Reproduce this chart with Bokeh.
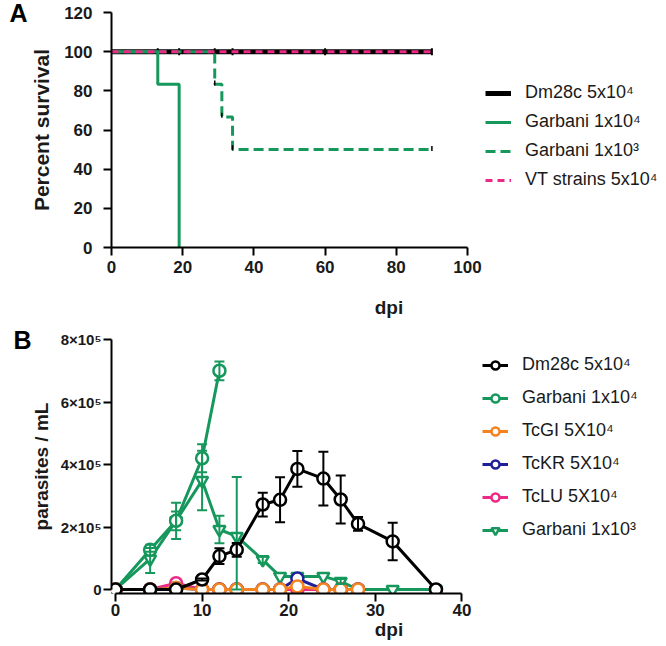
from bokeh.plotting import figure
from bokeh.models import (Legend, LegendItem, FixedTicker, Whisker, LinearAxis,
                          ColumnDataSource, Range1d, TeeHead)
from bokeh.layouts import column
from bokeh.embed import file_html
from bokeh.resources import INLINE

FONT = "Liberation Sans"
GREEN = "#16985c"
PINK = "#ec2a86"
ORANGE = "#f58220"
BLUE = "#1f1f99"
BLACK = "#000000"
TXT = "#1a1a1a"

# ---------------- Panel A data (percent survival) ----------------
surv_dm28c_t = [0, 90]
surv_dm28c = [100, 100]
surv_g4_t = [0, 13, 19]
surv_g4 = [100, 83.3, 0]
surv_g3_t = [0, 29, 31, 34, 90]
surv_g3 = [100, 83.3, 66.7, 50, 50]
surv_vt_t = [0, 90]
surv_vt = [100, 100]
cens_dm28c_t = [13, 19, 29, 34, 60, 90]
cens_dm28c = [100, 100, 100, 100, 100, 100]
cens_g3_t = [29, 31, 34, 90]
cens_g3 = [84, 67.5, 51, 50.5]
a_xticks = [0, 20, 40, 60, 80, 100]
a_yticks = [0, 20, 40, 60, 80, 100, 120]

# ---------------- Panel B data (parasites / mL, x1e5) ----------------
dm_t = [0, 4, 7, 10, 12, 14, 17, 19, 21, 24, 26, 28, 32, 37]
dm_v = [0, 0, 0, 0.32, 1.07, 1.27, 2.72, 2.87, 3.86, 3.55, 2.88, 2.10, 1.54, 0]
dm_e = [0, 0, 0, 0.03, 0.25, 0.22, 0.38, 0.72, 0.57, 0.86, 0.77, 0.22, 0.60, 0]
g4_t = [0, 4, 7, 10, 12]
g4_v = [0, 1.27, 2.20, 4.20, 7.00]
g4_e = [0, 0.06, 0.30, 0.45, 0.30]
g3_t = [0, 4, 7, 10, 12, 14, 17, 19, 21, 24, 26, 28, 32, 37]
g3_v = [0, 0.98, 2.20, 3.49, 1.92, 1.70, 0.95, 0.42, 0.42, 0.42, 0.26, 0, 0, 0]
g3_e = [0, 0.45, 0.58, 0.95, 0.44, 1.90, 0.10, 0, 0, 0, 0.08, 0, 0, 0]
gi_t = [0, 4, 7, 10, 12, 14, 17, 19, 21, 24, 26, 28]
gi_v = [0, 0, 0.05, 0, 0, 0, 0, 0, 0.10, 0, 0, 0]
kr_t = [0, 4, 7, 10, 12, 14, 17, 19, 21, 24, 26, 28]
kr_v = [0, 0, 0.05, 0, 0, 0, 0, 0, 0.35, 0, 0, 0]
lu_t = [0, 4, 7, 10, 12, 14, 17, 19, 21, 24, 26, 28]
lu_v = [0, 0, 0.20, 0, 0, 0, 0, 0, 0, 0, 0, 0]
b_xticks = [0, 10, 20, 30, 40]
b_yticks = [0, 2e5, 4e5, 6e5, 8e5]
b_ylabels = ["0", "2\u00d710\u2075", "4\u00d710\u2075", "6\u00d710\u2075", "8\u00d710\u2075"]

SCALE = 1e5
W = 666
H = 323


def style_axes(p, xticks, yticks):
    for ax in (p.xaxis[0], p.yaxis[0]):
        ax.axis_line_width = 2
        ax.axis_line_color = BLACK
        ax.major_tick_line_width = 2
        ax.major_tick_line_color = BLACK
        ax.major_tick_out = 8
        ax.major_tick_in = 0
        ax.minor_tick_line_color = None
        ax.major_label_text_font = FONT
        ax.major_label_text_font_style = "bold"
        ax.major_label_text_font_size = "17px"
        ax.major_label_text_color = TXT
        ax.axis_label_text_font = FONT
        ax.axis_label_text_font_style = "bold"
        ax.axis_label_text_font_size = "19px"
        ax.axis_label_text_color = TXT
    p.xaxis[0].ticker = FixedTicker(ticks=xticks)
    p.yaxis[0].ticker = FixedTicker(ticks=yticks)
    p.xgrid.grid_line_color = None
    p.ygrid.grid_line_color = None
    p.outline_line_color = None


def letter_axis(p, letter, standoff):
    ax = LinearAxis(ticker=FixedTicker(ticks=[]), axis_line_color=None,
                    major_tick_line_color=None, minor_tick_line_color=None,
                    major_label_text_font_size="0px",
                    axis_label=letter, axis_label_text_font=FONT,
                    axis_label_text_font_style="bold",
                    axis_label_text_font_size="25px",
                    axis_label_text_color=BLACK,
                    axis_label_orientation="horizontal",
                    axis_label_align="end",
                    axis_label_standoff=standoff)
    p.add_layout(ax, "left")


def style_legend(leg, spacing):
    leg.border_line_color = None
    leg.background_fill_alpha = 0
    leg.padding = 0
    leg.margin = 0
    leg.spacing = spacing
    leg.glyph_width = 26
    leg.glyph_height = 20
    leg.label_height = 20
    leg.label_standoff = 14
    leg.label_text_font = FONT
    leg.label_text_font_size = "18px"
    leg.label_text_color = TXT


# ================= Panel A =================
# frame: dpi 0 at x=111, right edge of canvas; 120 % at y=12, 0 % at y=247
a_px_x = 356 / 100.0
pa = figure(width=W, height=H, output_backend="svg", toolbar_location=None,
            x_range=Range1d(0, (W - 111) / a_px_x), y_range=Range1d(0, 120),
            min_border_left=111, min_border_right=0, min_border_top=12,
            min_border_bottom=H - 247)
style_axes(pa, a_xticks, a_yticks)
pa.xaxis.bounds = (0, 100)
pa.xaxis.axis_label = "dpi"
pa.yaxis.axis_label = "Percent survival"
pa.yaxis.axis_label_text_font_size = "21px"
pa.xaxis.major_label_standoff = 5
pa.xaxis.axis_label_standoff = 21
pa.yaxis.major_label_standoff = 11
pa.yaxis.axis_label_standoff = 8
letter_axis(pa, "A", 0)

ra1 = pa.step(surv_dm28c_t, surv_dm28c, mode="after", line_color=BLACK, line_width=5)
pa.scatter(cens_dm28c_t, cens_dm28c, marker="dash", angle=1.5708, size=7,
           line_color=BLACK, line_width=2)
ra2 = pa.step(surv_g4_t, surv_g4, mode="after", line_color=GREEN, line_width=3)
ra3 = pa.step(surv_g3_t, surv_g3, mode="after", line_color=GREEN, line_width=3,
              line_dash="10 5")
pa.scatter(cens_g3_t, cens_g3, marker="dash", angle=1.5708, size=5,
           line_color=BLACK, line_width=1.5)
ra4 = pa.step(surv_vt_t, surv_vt, mode="after", line_color=PINK, line_width=3,
              line_dash="7 5")

leg_a = Legend(items=[
    LegendItem(label="Dm28c 5x10\u2074", renderers=[ra1]),
    LegendItem(label="Garbani 1x10\u2074", renderers=[ra2]),
    LegendItem(label="Garbani 1x10\u00b3", renderers=[ra3]),
    LegendItem(label="VT strains 5x10\u2074", renderers=[ra4]),
], location=(485 - 111, 57))
style_legend(leg_a, 8)
pa.add_layout(leg_a)

# ================= Panel B =================
# dpi 0 at x=111, dpi 40 at x=460; 0 parasites at y=589, 8e5 at y=339 (page)
b_px_x = 349 / 40.0
b_px_y = 250 / 8e5
b_left = 107            # frame starts a few px left of dpi 0 so markers at 0 show
b_bottom_page = 593     # frame ends a few px below 0 parasites
b_xmin = -(111 - b_left) / b_px_x
b_ymin = -(b_bottom_page - 589) / b_px_y
pb = figure(width=W, height=H, output_backend="svg", toolbar_location=None,
            x_range=Range1d(b_xmin, b_xmin + (W - b_left) / b_px_x),
            y_range=Range1d(b_ymin, 8e5),
            min_border_left=b_left, min_border_right=0, min_border_top=339 - 323,
            min_border_bottom=H - (b_bottom_page - 323))
style_axes(pb, b_xticks, b_yticks)
pb.xaxis.bounds = (0, 40)
pb.yaxis.bounds = (0, 8e5)
pb.yaxis.major_label_overrides = {int(t): s for t, s in zip(b_yticks, b_ylabels)}
pb.yaxis.major_label_text_font_size = "15px"
pb.xaxis.major_label_text_font_size = "17px"
pb.xaxis.axis_label = "dpi"
pb.yaxis.axis_label = "parasites / mL"
pb.xaxis.major_label_standoff = 2
pb.xaxis.axis_label_standoff = 0
pb.yaxis.major_label_standoff = 2
pb.yaxis.axis_label_standoff = 6
letter_axis(pb, "B", -4)


def series(p, t, v, e, color, marker):
    vals = [x * SCALE for x in v]
    rl = p.line(t, vals, line_color=color, line_width=3)
    if e is not None:
        tt = [ti for ti, ei in zip(t, e) if ei > 0]
        up = [(vi + ei) * SCALE for vi, ei in zip(v, e) if ei > 0]
        lo = [max(vi - ei, 0) * SCALE for vi, ei in zip(v, e) if ei > 0]
        src = ColumnDataSource(dict(t=tt, u=up, l=lo))
        w = Whisker(base="t", upper="u", lower="l", source=src,
                    line_color=color, line_width=2, level="glyph",
                    upper_head=TeeHead(size=10, line_color=color, line_width=2),
                    lower_head=TeeHead(size=10, line_color=color, line_width=2))
        p.add_layout(w)
    rm = p.scatter(t, vals, marker=marker, size=12, line_color=color,
                   line_width=2.5, fill_color="white")
    return [rl, rm]


rb6 = series(pb, g3_t, g3_v, g3_e, GREEN, "inverted_triangle")
rb2 = series(pb, g4_t, g4_v, g4_e, GREEN, "circle")
rb5 = series(pb, lu_t, lu_v, None, PINK, "circle")
rb4 = series(pb, kr_t, kr_v, None, BLUE, "circle")
rb3 = series(pb, gi_t, gi_v, None, ORANGE, "circle")
rb1 = series(pb, dm_t, dm_v, dm_e, BLACK, "circle")

leg_b = Legend(items=[
    LegendItem(label="Dm28c 5x10\u2074", renderers=rb1),
    LegendItem(label="Garbani 1x10\u2074", renderers=rb2),
    LegendItem(label="TcGI 5X10\u2074", renderers=rb3),
    LegendItem(label="TcKR 5X10\u2074", renderers=rb4),
    LegendItem(label="TcLU 5X10\u2074", renderers=rb5),
    LegendItem(label="Garbani 1x10\u00b3", renderers=rb6),
], location=(478 - b_left, 53))
style_legend(leg_b, 12)
pb.add_layout(leg_b)

layout = column(pa, pb, spacing=0)
open("out.html", "w").write(file_html(layout, INLINE))
